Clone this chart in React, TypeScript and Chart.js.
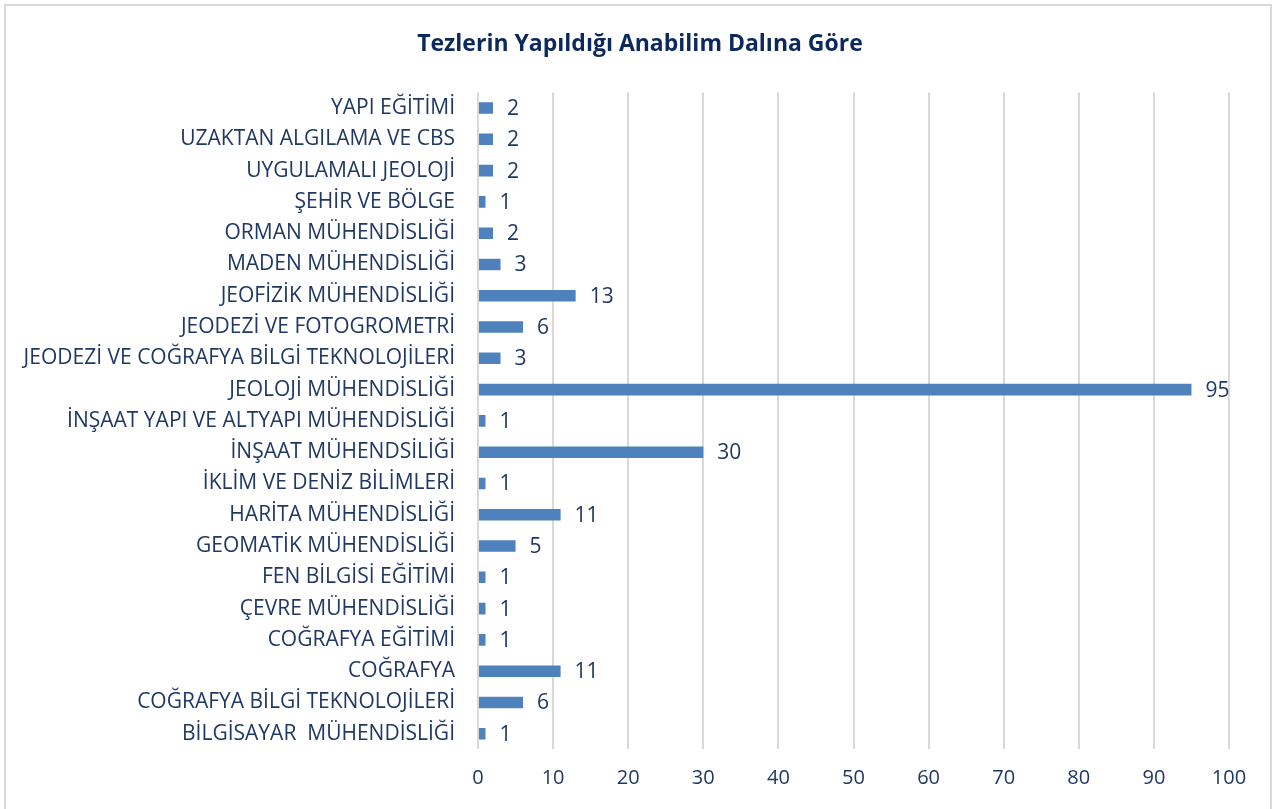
import React, { useEffect, useRef } from "react";
import { Chart, registerables } from "chart.js";

Chart.register(...registerables);

const categories: string[] = [
  "YAPI EĞİTİMİ",
  "UZAKTAN ALGILAMA VE CBS",
  "UYGULAMALI JEOLOJİ",
  "ŞEHİR VE BÖLGE",
  "ORMAN MÜHENDİSLİĞİ",
  "MADEN MÜHENDİSLİĞİ",
  "JEOFİZİK MÜHENDİSLİĞİ",
  "JEODEZİ VE FOTOGROMETRİ",
  "JEODEZİ VE COĞRAFYA BİLGİ TEKNOLOJİLERİ",
  "JEOLOJİ MÜHENDİSLİĞİ",
  "İNŞAAT YAPI VE ALTYAPI MÜHENDİSLİĞİ",
  "İNŞAAT MÜHENDSİLİĞİ",
  "İKLİM VE DENİZ BİLİMLERİ",
  "HARİTA MÜHENDİSLİĞİ",
  "GEOMATİK MÜHENDİSLİĞİ",
  "FEN BİLGİSİ EĞİTİMİ",
  "ÇEVRE MÜHENDİSLİĞİ",
  "COĞRAFYA EĞİTİMİ",
  "COĞRAFYA",
  "COĞRAFYA BİLGİ TEKNOLOJİLERİ",
  "BİLGİSAYAR  MÜHENDİSLİĞİ",
];

const counts: number[] = [2, 2, 2, 1, 2, 3, 13, 6, 3, 95, 1, 30, 1, 11, 5, 1, 1, 1, 11, 6, 1];

const xTicks: number[] = [0, 10, 20, 30, 40, 50, 60, 70, 80, 90, 100];

const titleText = "Tezlerin Yapıldığı Anabilim Dalına Göre";

const FONT = "'Open Sans', 'Noto Sans', sans-serif";
const TEXT_COLOR = "#1F3864";

const valueLabels = {
  id: "valueLabels",
  afterDatasetsDraw(chart: any) {
    const ctx = chart.ctx;
    const meta = chart.getDatasetMeta(0);
    const data = chart.data.datasets[0].data as number[];
    ctx.save();
    ctx.font = `21px ${FONT}`;
    ctx.fillStyle = TEXT_COLOR;
    ctx.textAlign = "left";
    ctx.textBaseline = "middle";
    meta.data.forEach((el: any, i: number) => {
      ctx.fillText(String(data[i]), el.x + 14, el.y + 1);
    });
    ctx.restore();
  },
};

const centeredTitle = {
  id: "centeredTitle",
  afterDraw(chart: any) {
    const ctx = chart.ctx;
    ctx.save();
    ctx.font = `bold 23px ${FONT}`;
    ctx.fillStyle = "#0B2A5B";
    ctx.textAlign = "center";
    ctx.textBaseline = "middle";
    ctx.fillText(titleText, chart.width / 2 + 3, 44);
    ctx.restore();
  },
};

export default function App() {
  const canvasRef = useRef<HTMLCanvasElement | null>(null);

  useEffect(() => {
    if (!canvasRef.current) return;
    const chart = new Chart(canvasRef.current, {
      type: "bar",
      data: {
        labels: categories,
        datasets: [
          {
            data: counts,
            backgroundColor: "#4F81BD",
            borderWidth: 0,
            barPercentage: 0.37,
            categoryPercentage: 1,
          },
        ],
      },
      options: {
        indexAxis: "y",
        responsive: false,
        animation: false,
        layout: { padding: { left: 0, right: 45, top: 92.4, bottom: 0 } },
        plugins: {
          legend: { display: false },
          tooltip: { enabled: false },
          title: { display: false },
        },
        scales: {
          x: {
            min: 0,
            max: 100,
            afterBuildTicks(scale: any) {
              scale.ticks = xTicks.map((v) => ({ value: v }));
            },
            afterFit(scale: any) {
              scale.height = 59.6;
            },
            border: { display: false },
            grid: { color: "#D9D9D9", lineWidth: 2, drawTicks: false },
            ticks: {
              padding: 17,
              color: TEXT_COLOR,
              font: { family: FONT, size: 20 },
            },
          },
          y: {
            afterFit(scale: any) {
              scale.width = 478;
            },
            border: { display: false },
            grid: { display: false, drawTicks: false },
            ticks: {
              padding: 23,
              color: TEXT_COLOR,
              font: { family: FONT, size: 21 },
              autoSkip: false,
            },
          },
        },
      },
      plugins: [valueLabels, centeredTitle],
    });
    return () => chart.destroy();
  }, []);

  return (
    <div
      style={{
        position: "fixed",
        left: 0,
        top: 0,
        width: 1274,
        height: 809,
        overflow: "hidden",
        background: "#FFFFFF",
      }}
    >
      <div
        style={{
          position: "absolute",
          left: 4,
          top: 4,
          width: 1264,
          height: 820,
          border: "2px solid #D9D9D9",
        }}
      />
      <canvas
        ref={canvasRef}
        width={1274}
        height={809}
        style={{ position: "absolute", left: 0, top: 0 }}
      />
    </div>
  );
}
